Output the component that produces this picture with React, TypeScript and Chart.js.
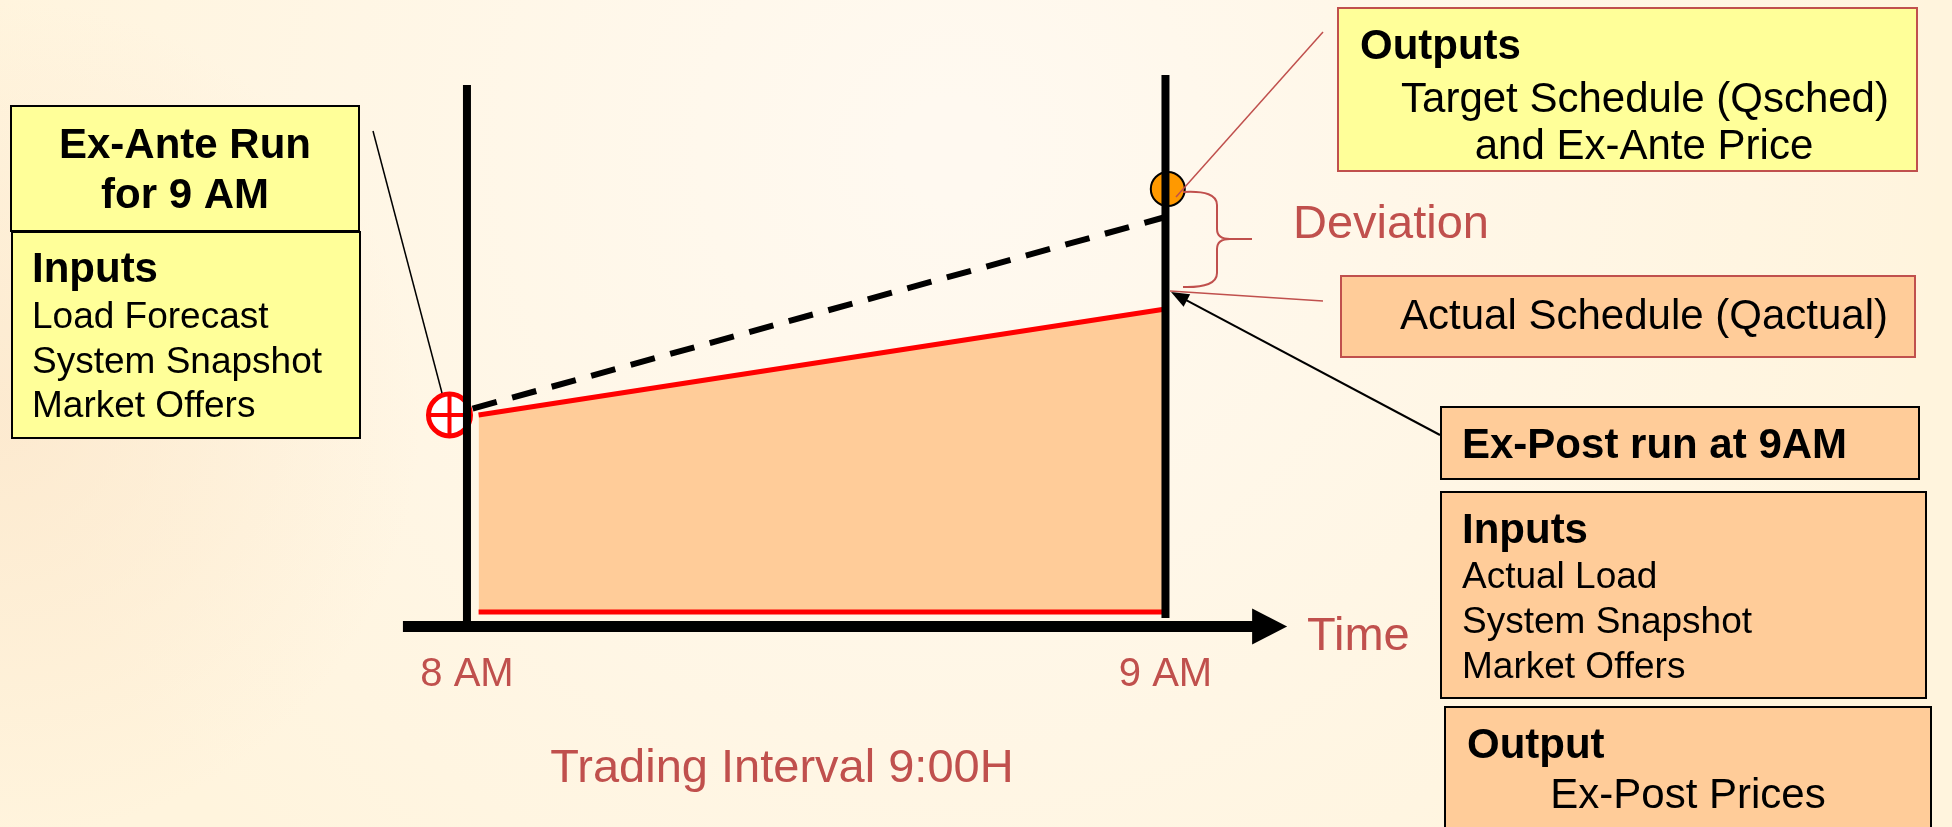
import React, { useEffect, useRef } from "react";
import { Chart, registerables } from "chart.js";

Chart.register(...registerables);

// ---- data (time in minutes after 8:00, quantity in MW-like units) ----
const TICK_LABELS = ["8 AM", "9 AM"];
const TICK_MINUTES = [0, 60];
const ACTUAL_MINUTES = [1, 60];
const ACTUAL_Q = [98.5, 151.5];
const BASE_Q = [0, 0];
const SCHED_MINUTES = [-1.5, 60];
const SCHED_Q = [98.5, 197.5];
const EXANTE_RUN_MINUTE = [-1.5];
const EXANTE_RUN_Q = [98.5];
const QSCHED_MARK_MINUTE = [60.2];
const QSCHED_MARK_Q = [211.5];
const BOUNDARY_TOP_Q = [263.5, 268.5];
const BOUNDARY_BOTTOM_Q = [-4.5, -3];
const AXIS_Q = -7.25;
const AXIS_START_MIN = -5.5;
const AXIS_TIP_MIN = 70.45;

const EX_ANTE_TITLE = ["Ex-Ante Run", "for 9 AM"];
const EX_ANTE_INPUTS = ["Load Forecast", "System Snapshot", "Market Offers"];
const OUTPUT_LINES = ["Target Schedule (Qsched)", "and Ex-Ante Price"];
const EX_POST_INPUTS = ["Actual Load", "System Snapshot", "Market Offers"];

const FONT = '"Liberation Sans", Arial, sans-serif';
const RED_TXT = "#C0504D";
const YELLOW = "#FFFF99";
const PEACH = "#FFCC99";

const pts = (xs: number[], ys: number[]) => xs.map((x, i) => ({ x, y: ys[i] }));

function box(ctx: CanvasRenderingContext2D, x: number, y: number, w: number, h: number, fill: string, stroke: string) {
  ctx.fillStyle = fill;
  ctx.fillRect(x, y, w, h);
  ctx.strokeStyle = stroke;
  ctx.lineWidth = 2;
  ctx.strokeRect(x, y, w, h);
}

function text(ctx: CanvasRenderingContext2D, s: string, x: number, y: number, size: number, opts: { bold?: boolean; color?: string; align?: CanvasTextAlign } = {}) {
  ctx.font = `${opts.bold ? "bold " : ""}${size}px ${FONT}`;
  ctx.fillStyle = opts.color || "#000000";
  ctx.textAlign = opts.align || "left";
  ctx.textBaseline = "alphabetic";
  ctx.fillText(s, x, y);
}

function line(ctx: CanvasRenderingContext2D, x1: number, y1: number, x2: number, y2: number, color: string, w: number) {
  ctx.strokeStyle = color;
  ctx.lineWidth = w;
  ctx.beginPath();
  ctx.moveTo(x1, y1);
  ctx.lineTo(x2, y2);
  ctx.stroke();
}

const diagramPlugin = {
  id: "diagram",
  beforeDraw(chart: any) {
    const { ctx, width, height } = chart;
    ctx.save();
    ctx.fillStyle = "#FFF4DD";
    ctx.fillRect(0, 0, width, height);
    const g1 = ctx.createRadialGradient(950, 150, 50, 950, 150, 1000);
    g1.addColorStop(0, "rgba(255,249,240,1)");
    g1.addColorStop(1, "rgba(255,249,240,0)");
    ctx.fillStyle = g1;
    ctx.fillRect(0, 0, width, height);
    const g2 = ctx.createRadialGradient(0, 420, 20, 0, 420, 420);
    g2.addColorStop(0, "rgba(252,232,205,0.8)");
    g2.addColorStop(1, "rgba(252,232,205,0)");
    ctx.fillStyle = g2;
    ctx.fillRect(0, 0, width, height);
    ctx.restore();
  },
  afterDatasetsDraw(chart: any) {
    const { ctx } = chart;
    const xs = chart.scales.x;
    const ys = chart.scales.y;
    ctx.save();

    // time axis with arrow
    const ay = ys.getPixelForValue(AXIS_Q);
    const ax0 = xs.getPixelForValue(AXIS_START_MIN);
    const tip = xs.getPixelForValue(AXIS_TIP_MIN);
    ctx.fillStyle = "#000";
    ctx.fillRect(ax0, ay - 5.5, tip - 34 - ax0, 11);
    ctx.beginPath();
    ctx.moveTo(tip, ay);
    ctx.lineTo(tip - 35, ay - 18);
    ctx.lineTo(tip - 35, ay + 18);
    ctx.closePath();
    ctx.fill();

    // tick labels
    TICK_LABELS.forEach((lbl, i) => {
      text(ctx, lbl, xs.getPixelForValue(TICK_MINUTES[i]), 686, 40, { color: RED_TXT, align: "center" });
    });
    text(ctx, "Time", 1307, 650, 47, { color: RED_TXT });
    text(ctx, "Trading Interval 9:00H", 782, 782, 47, { color: RED_TXT, align: "center" });

    // leader lines
    line(ctx, 373, 131, 442, 393, "#000", 1.5);
    line(ctx, 1176, 197, 1323, 32, RED_TXT, 1.5);
    line(ctx, 1170, 291, 1323, 301, RED_TXT, 1.5);

    // arrow from ex-post box to actual schedule
    const sx = 1440, sy = 435, ex = 1171, ey = 292;
    const ang = Math.atan2(ey - sy, ex - sx);
    line(ctx, sx, sy, ex - 14 * Math.cos(ang), ey - 14 * Math.sin(ang), "#000", 2);
    ctx.fillStyle = "#000";
    ctx.beginPath();
    ctx.moveTo(ex, ey);
    ctx.lineTo(ex - 18 * Math.cos(ang) + 7 * Math.sin(ang), ey - 18 * Math.sin(ang) - 7 * Math.cos(ang));
    ctx.lineTo(ex - 18 * Math.cos(ang) - 7 * Math.sin(ang), ey - 18 * Math.sin(ang) + 7 * Math.cos(ang));
    ctx.closePath();
    ctx.fill();

    // brace
    ctx.strokeStyle = RED_TXT;
    ctx.lineWidth = 2;
    ctx.beginPath();
    ctx.moveTo(1183, 192);
    ctx.quadraticCurveTo(1217, 190, 1217, 205);
    ctx.lineTo(1217, 229);
    ctx.quadraticCurveTo(1217, 239, 1230, 239);
    ctx.lineTo(1252, 239);
    ctx.moveTo(1230, 239);
    ctx.quadraticCurveTo(1217, 239, 1217, 249);
    ctx.lineTo(1217, 273);
    ctx.quadraticCurveTo(1217, 288, 1183, 287);
    ctx.stroke();
    text(ctx, "Deviation", 1293, 238, 47, { color: RED_TXT });

    // Ex-ante boxes
    box(ctx, 11, 106, 348, 125, YELLOW, "#000");
    text(ctx, EX_ANTE_TITLE[0], 185, 158, 42, { bold: true, align: "center" });
    text(ctx, EX_ANTE_TITLE[1], 185, 208, 42, { bold: true, align: "center" });
    box(ctx, 12, 232, 348, 206, YELLOW, "#000");
    text(ctx, "Inputs", 32, 282, 42, { bold: true });
    EX_ANTE_INPUTS.forEach((s, i) => text(ctx, s, 32, 328 + i * 44.5, 37));

    // Outputs box
    box(ctx, 1338, 8, 579, 163, YELLOW, RED_TXT);
    text(ctx, "Outputs", 1360, 59, 42, { bold: true });
    text(ctx, OUTPUT_LINES[0], 1645, 112, 42, { align: "center" });
    text(ctx, OUTPUT_LINES[1], 1644, 159, 42, { align: "center" });

    // Actual schedule box
    box(ctx, 1341, 276, 574, 81, PEACH, RED_TXT);
    text(ctx, "Actual Schedule (Qactual)", 1644, 329, 42, { align: "center" });

    // Ex-post boxes
    box(ctx, 1441, 407, 478, 72, PEACH, "#000");
    text(ctx, "Ex-Post run at 9AM", 1462, 458, 42, { bold: true });
    box(ctx, 1441, 492, 485, 206, PEACH, "#000");
    text(ctx, "Inputs", 1462, 543, 42, { bold: true });
    EX_POST_INPUTS.forEach((s, i) => text(ctx, s, 1462, 588 + i * 45, 37));
    box(ctx, 1445, 707, 486, 140, PEACH, "#000");
    text(ctx, "Output", 1467, 758, 42, { bold: true });
    text(ctx, "Ex-Post Prices", 1688, 808, 42, { align: "center" });

    ctx.restore();
  },
};

export default function App() {
  const ref = useRef<HTMLCanvasElement | null>(null);
  useEffect(() => {
    if (!ref.current) return;
    const chart = new Chart(ref.current, {
      type: "line",
      data: {
        datasets: [
          {
            label: "Actual",
            data: pts(ACTUAL_MINUTES, ACTUAL_Q),
            borderColor: "#FF0000",
            borderWidth: 5,
            backgroundColor: PEACH,
            fill: { value: 0 },
            pointRadius: 0,
            order: 10,
          },
          {
            label: "Base",
            data: pts(ACTUAL_MINUTES, BASE_Q),
            borderColor: "#FF0000",
            borderWidth: 5,
            pointRadius: 0,
            fill: false,
            order: 9,
          },
          {
            label: "Qsched",
            data: pts(SCHED_MINUTES, SCHED_Q),
            borderColor: "#000000",
            borderWidth: 6,
            borderDash: [25, 16],
            borderDashOffset: 17,
            borderCapStyle: "butt",
            pointRadius: 0,
            fill: false,
            order: 8,
          },
          {
            label: "Ex-ante run",
            data: pts(EXANTE_RUN_MINUTE, EXANTE_RUN_Q),
            showLine: false,
            pointStyle: "circle",
            pointRadius: 21,
            pointBorderWidth: 5,
            pointBorderColor: "#FF0000",
            pointBackgroundColor: "#FFFFFF",
            order: 6,
          },
          {
            label: "Ex-ante cross",
            data: pts(EXANTE_RUN_MINUTE, EXANTE_RUN_Q),
            showLine: false,
            pointStyle: "cross",
            pointRadius: 19,
            pointBorderWidth: 4,
            pointBorderColor: "#FF0000",
            order: 5,
          },
          {
            label: "Qsched output",
            data: pts(QSCHED_MARK_MINUTE, QSCHED_MARK_Q),
            showLine: false,
            pointStyle: "circle",
            pointRadius: 17,
            pointBorderWidth: 2,
            pointBorderColor: "#000000",
            pointBackgroundColor: "#FF9900",
            order: 5,
          },
          {
            label: "8 AM boundary",
            data: [
              { x: TICK_MINUTES[0], y: BOUNDARY_BOTTOM_Q[0] },
              { x: TICK_MINUTES[0], y: BOUNDARY_TOP_Q[0] },
            ],
            borderColor: "#000000",
            borderWidth: 8,
            borderCapStyle: "butt",
            pointRadius: 0,
            fill: false,
            order: 1,
          },
          {
            label: "9 AM boundary",
            data: [
              { x: TICK_MINUTES[1], y: BOUNDARY_BOTTOM_Q[1] },
              { x: TICK_MINUTES[1], y: BOUNDARY_TOP_Q[1] },
            ],
            borderColor: "#000000",
            borderWidth: 8,
            borderCapStyle: "butt",
            pointRadius: 0,
            fill: false,
            order: 1,
          },
        ],
      },
      options: {
        animation: false,
        responsive: false,
        devicePixelRatio: 1,
        events: [],
        layout: { padding: 0, autoPadding: false },
        plugins: { legend: { display: false }, tooltip: { enabled: false } },
        scales: {
          x: { type: "linear", min: -40.11, max: 127.56, display: false },
          y: { type: "linear", min: -107.5, max: 306, display: false },
        },
      } as any,
      plugins: [diagramPlugin],
    });
    return () => chart.destroy();
  }, []);
  return (
    <div style={{ position: "absolute", left: 0, top: 0, width: 1952, height: 827 }}>
      <canvas ref={ref} width={1952} height={827} style={{ display: "block" }} />
    </div>
  );
}
